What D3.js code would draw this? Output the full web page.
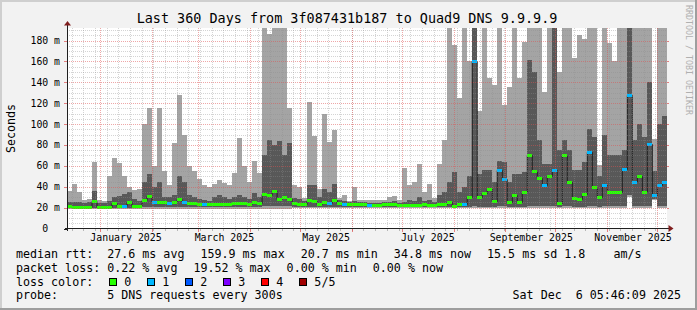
<!DOCTYPE html>
<html>
<head>
<meta charset="utf-8">
<script src="https://cdn.jsdelivr.net/npm/d3@7"></script>
<style>
  html, body { margin: 0; padding: 0; background: #f2f2f2; }
  svg { display: block; font-family: "DejaVu Sans Mono", monospace; }
  text { white-space: pre; }
</style>
</head>
<body>
<div id="chart"></div>
<script>
// Time range shown (360 days) and bin length
const rangeStart = new Date(2024, 11, 12, 5, 0);
const rangeEnd = new Date(2025, 11, 7, 0, 0);
const binDays = 3;

// Smoke: sorted ping rtts per bin (ms) -> min, 2nd, median, 4th, max
const pingMax = [
  36, 43, 35, 27, 28, 64, 27, 26, 50, 68, 63, 50, 40, 37, 38, 100, 115, 60, 115, 55,
  42, 82, 128, 90, 60, 55, 47, 42, 40, 43, 46, 44, 42, 53, 87, 60, 45, 65, 53, 200,
  186, 200, 200, 200, 115, 42, 40, 29, 121, 89, 38, 110, 83, 94, 29, 32, 26, 40, 27, 27,
  27, 27, 27, 27, 30, 31, 27, 58, 42, 45, 62, 35, 43, 29, 62, 85, 200, 176, 125, 200,
  160, 200, 113, 200, 144, 137, 200, 118, 136, 200, 144, 179, 200, 200, 200, 131, 200, 200, 150, 200,
  200, 163, 185, 182, 200, 200, 61, 200, 178, 160, 200, 200, 200, 200, 200, 200, 200, 86, 200, 200
];
const pingHigh = [
  25, 25, 25, 24, 25, 36, 24, 24, 26, 30, 31, 33, 35, 28, 26, 45, 52, 40, 45, 30,
  30, 32, 50, 45, 32, 30, 28, 27, 26, 30, 32, 30, 28, 30, 32, 30, 28, 34, 30, 70,
  85, 80, 84, 70, 82, 29, 28, 26, 42, 42, 30, 38, 35, 43, 27, 26, 25, 26, 25, 25,
  24, 24, 24, 25, 25, 26, 24, 25, 27, 26, 30, 26, 27, 25, 32, 35, 45, 54, 35, 40,
  50, 200, 52, 56, 56, 45, 65, 64, 45, 52, 52, 54, 161, 150, 85, 62, 62, 200, 75, 85,
  75, 56, 56, 64, 95, 88, 50, 90, 70, 70, 70, 75, 200, 85, 100, 88, 140, 55, 100, 108
];
const pingMedian = [
  21.5, 21, 21, 21, 21, 26, 21, 21, 21, 24, 21.5, 21.5, 25, 21.5, 21.5, 27, 31, 25, 25, 25,
  24, 25, 28, 25, 24, 24, 23.5, 23, 23, 23, 23, 23, 23, 24, 24, 24, 23, 25, 24, 33,
  32, 36, 28, 30, 28, 24, 23, 23, 27, 26, 23, 25, 24, 27, 24, 23, 23, 23, 23, 23,
  22.5, 22.5, 22.5, 23, 23, 23.5, 22.5, 22.5, 22.5, 22.5, 22.5, 23, 22.5, 22.5, 23, 23, 25, 22, 23, 23,
  30, 160, 30, 34, 38, 26, 56, 47, 25, 32, 25, 35, 70, 55, 48, 42, 50, 56, 24, 70,
  45, 29, 28, 33, 73, 40, 30, 42, 35, 35, 35, 57, 128, 45, 50, 35, 81, 32, 42, 45
];
const pingLow = [
  20, 20, 20, 20, 20, 20, 20, 20, 20, 20, 20, 20, 20, 20, 20, 21, 21, 21, 21, 21,
  21, 21, 21, 21, 21, 21, 21, 21, 21, 21, 21, 21, 21, 21, 21, 21, 21, 21, 21, 22,
  22, 22, 22, 22, 22, 21, 21, 21, 21, 21, 21, 21, 21, 21, 21, 21, 21, 21, 21, 21,
  21, 21, 21, 21, 21, 21, 21, 21, 21, 21, 21, 21, 21, 21, 21, 21, 21, 21, 21, 21,
  21, 22, 21, 21, 21, 21, 22, 22, 21, 21, 21, 21, 22, 22, 22, 22, 22, 22, 21, 22,
  22, 21, 21, 21, 22, 22, 21, 22, 22, 22, 22, 22, 32, 22, 22, 22, 22, 28, 22, 22
];
const pingMin = [
  18.5, 18.5, 18.5, 18.5, 18.5, 18.5, 18.5, 18.5, 18.5, 18.5, 18.5, 18.5, 18.5, 18.5, 18.5, 19, 19, 19, 19, 19,
  19, 19, 19, 19, 19, 19, 19, 19, 19, 19, 19, 19, 19, 19, 19, 19, 19, 19, 19, 19,
  19, 19, 19, 19, 19, 19.5, 19.5, 19.5, 19.5, 19.5, 19.5, 19.5, 19.5, 19.5, 20, 20, 20, 20, 20, 20,
  20, 20, 20, 20, 20, 20, 20, 20, 20, 20, 20, 20, 20, 20, 20, 20, 20, 20, 20, 20,
  20, 20, 20, 20, 20, 20, 20, 20, 20, 20, 20, 20, 20, 20, 20, 20, 20, 20, 20, 20,
  20, 20, 20, 20, 20, 20, 20, 20, 20, 20, 20, 20, 30, 20, 20, 20, 20, 27, 20, 20
];
// lost pings out of 5 per bin
const lossCount = [
  0, 0, 0, 0, 0, 0, 0, 0, 0, 0, 0, 1, 0, 0, 0, 0, 0, 1, 0, 0,
  1, 0, 0, 1, 0, 0, 0, 1, 0, 0, 0, 0, 0, 0, 0, 0, 0, 0, 0, 0,
  0, 0, 0, 0, 0, 0, 0, 0, 0, 0, 0, 0, 1, 0, 0, 1, 0, 0, 0, 0,
  1, 0, 0, 0, 0, 0, 0, 0, 0, 0, 0, 0, 0, 0, 0, 0, 0, 0, 0, 1,
  0, 1, 0, 0, 0, 0, 1, 1, 0, 0, 0, 0, 0, 0, 0, 1, 0, 1, 0, 0,
  0, 0, 0, 0, 1, 0, 0, 1, 0, 0, 0, 1, 1, 1, 0, 0, 1, 1, 1, 1
];

// Axis ticks and labels
const yTicks = [0, 20, 40, 60, 80, 100, 120, 140, 160, 180];
const yTickLabels = ["0  ", "20 m", "40 m", "60 m", "80 m", "100 m", "120 m", "140 m", "160 m", "180 m"];
const xLabelMonths = [new Date(2025, 0, 1), new Date(2025, 2, 1), new Date(2025, 4, 1),
                      new Date(2025, 6, 1), new Date(2025, 8, 1), new Date(2025, 10, 1)];

// Legend texts
const titleText = "Last 360 Days from 3f087431b187 to Quad9 DNS 9.9.9.9";
const rttStats = ["median rtt:  27.6 ms avg", "159.9 ms max", "20.7 ms min", "34.8 ms now", "15.5 ms sd 1.8    am/s"];
const lossStats = ["packet loss: 0.22 % avg", "19.52 % max", "0.00 % min", "0.00 % now"];
const lossLabels = ["0", "1", "2", "3", "4", "5/5"];
const probeText = "probe:       5 DNS requests every 300s";
const dateText = "Sat Dec  6 05:46:09 2025";

const lossColor = d3.scaleOrdinal()
    .domain(d3.range(6))
    .range(["#26ff00", "#00b8ff", "#0059ff", "#7e00ff", "#ff0000", "#a10000"]);

function render() {
    const W = 697, H = 310;
    const X0 = 67, X1 = 667, Y0 = 228, Y1 = 28;

    const svg = d3.select("#chart").append("svg")
        .attr("width", W).attr("height", H);

    // background + 3d border
    svg.append("rect").attr("width", W).attr("height", H).attr("fill", "#f2f2f2");
    svg.append("path").attr("d", `M0,0H${W}V2H2V${H}H0Z`).attr("fill", "#cfcfcf");
    svg.append("path").attr("d", `M${W},${H}H0V${H - 2}H${W - 2}V0H${W}Z`).attr("fill", "#9e9e9e");

    // canvas
    svg.append("rect").attr("x", X0).attr("y", Y1).attr("width", X1 - X0).attr("height", Y0 - Y1)
        .attr("fill", "#ffffff");

    const x = d3.scaleTime().domain([rangeStart, rangeEnd]).range([X0, X1]);
    const y = d3.scaleLinear().domain([0, 191.6]).range([Y0 + 0.5, Y1 + 0.5]);

    // bins
    const bins = pingMedian.map((m, i) => ({
        t: d3.timeHour.offset(rangeStart, i * binDays * 24),
        min: pingMin[i], low: pingLow[i], med: m, high: pingHigh[i], max: pingMax[i], loss: lossCount[i]
    }));
    const stepData = bins.concat([Object.assign({}, bins[bins.length - 1],
        { t: d3.timeHour.offset(rangeStart, bins.length * binDays * 24) })]);

    svg.append("clipPath").attr("id", "plot-clip")
        .append("rect").attr("x", X0).attr("y", Y1).attr("width", X1 - X0).attr("height", Y0 - Y1 + 1);

    const plot = svg.append("g").attr("clip-path", "url(#plot-clip)");

    // smoke
    const lightArea = d3.area().curve(d3.curveStepAfter)
        .x(d => x(d.t)).y0(d => y(d.min)).y1(d => y(d.max));
    const darkArea = d3.area().curve(d3.curveStepAfter)
        .x(d => x(d.t)).y0(d => y(d.low)).y1(d => y(d.high));

    plot.append("path").datum(stepData).attr("d", lightArea)
        .attr("fill", "#a4a4a4").attr("shape-rendering", "crispEdges");
    plot.append("path").datum(stepData).attr("d", darkArea)
        .attr("fill", "#585858").attr("shape-rendering", "crispEdges");

    // median line
    const medLine = d3.line().curve(d3.curveStepAfter)
        .x(d => x(d.t)).y(d => Math.round(y(d.med)) + 0.5);
    plot.append("path").datum(stepData).attr("d", medLine)
        .attr("fill", "none").attr("stroke", "#202020").attr("stroke-width", 1);

    // median markers colored by loss
    plot.selectAll(".med").data(bins).enter().append("rect")
        .attr("x", d => x(d.t))
        .attr("width", (d, i) => x(stepData[i + 1].t) - x(d.t))
        .attr("y", d => Math.round(y(d.med)) - 1)
        .attr("height", 3)
        .attr("fill", d => lossColor(d.loss))
        .attr("shape-rendering", "crispEdges");

    // grid
    const grid = svg.append("g").attr("stroke-dasharray", "1,1").attr("stroke-width", 1);
    const minorCol = "rgba(143,143,143,0.38)", majorCol = "rgba(222,79,79,0.5)";

    const minorY = d3.range(5, 191, 5).filter(v => v % 20 !== 0);
    grid.selectAll(".ymin").data(minorY).enter().append("line")
        .attr("x1", X0).attr("x2", X1)
        .attr("y1", d => Math.round(y(d)) + 0.5).attr("y2", d => Math.round(y(d)) + 0.5)
        .attr("stroke", minorCol);
    grid.selectAll(".ymaj").data(yTicks.slice(1)).enter().append("line")
        .attr("x1", X0).attr("x2", X1)
        .attr("y1", d => Math.round(y(d)) + 0.5).attr("y2", d => Math.round(y(d)) + 0.5)
        .attr("stroke", majorCol);

    const weeks = d3.timeSunday.range(rangeStart, rangeEnd);
    const months = d3.timeMonth.range(rangeStart, rangeEnd);
    grid.selectAll(".xmin").data(weeks).enter().append("line")
        .attr("x1", d => Math.round(x(d)) + 0.5).attr("x2", d => Math.round(x(d)) + 0.5)
        .attr("y1", Y1).attr("y2", Y0)
        .attr("stroke", minorCol);
    grid.selectAll(".xmaj").data(months).enter().append("line")
        .attr("x1", d => Math.round(x(d)) + 0.5).attr("x2", d => Math.round(x(d)) + 0.5)
        .attr("y1", Y1).attr("y2", Y0)
        .attr("stroke", majorCol);

    // small ticks outside the plot
    const ticks = svg.append("g").attr("stroke-width", 1);
    ticks.selectAll(".tw").data(weeks).enter().append("line")
        .attr("x1", d => Math.round(x(d)) + 0.5).attr("x2", d => Math.round(x(d)) + 0.5)
        .attr("y1", Y0 + 1).attr("y2", Y0 + 3).attr("stroke", "rgba(143,143,143,0.6)");
    ticks.selectAll(".tm").data(months).enter().append("line")
        .attr("x1", d => Math.round(x(d)) + 0.5).attr("x2", d => Math.round(x(d)) + 0.5)
        .attr("y1", Y0 + 1).attr("y2", Y0 + 4).attr("stroke", "rgba(222,79,79,0.7)");
    ticks.selectAll(".ty").data(yTicks).enter().append("line")
        .attr("x1", X0 - 3).attr("x2", X0)
        .attr("y1", d => Math.round(y(d)) + 0.5).attr("y2", d => Math.round(y(d)) + 0.5)
        .attr("stroke", d => d === 0 ? "#1f1f1f" : "rgba(222,79,79,0.7)");
    ticks.selectAll(".tyr").data(yTicks.slice(1)).enter().append("line")
        .attr("x1", X1).attr("x2", X1 + 2)
        .attr("y1", d => Math.round(y(d)) + 0.5).attr("y2", d => Math.round(y(d)) + 0.5)
        .attr("stroke", "rgba(222,79,79,0.7)");

    // axes with arrows
    svg.append("line").attr("x1", X0 + 0.5).attr("x2", X0 + 0.5).attr("y1", Y0 + 3).attr("y2", Y1 - 4)
        .attr("stroke", "#1f1f1f");
    svg.append("line").attr("x1", X0 - 2).attr("x2", X1 + 3).attr("y1", Y0 + 0.5).attr("y2", Y0 + 0.5)
        .attr("stroke", "#1f1f1f");
    svg.append("path").attr("d", `M${X0 - 3},${Y1 - 2.5}L${X0 + 4},${Y1 - 2.5}L${X0 + 0.5},${Y1 - 7}Z`)
        .attr("fill", "#801f1f");
    svg.append("path").attr("d", `M${X1 + 1.5},${Y0 - 3}L${X1 + 1.5},${Y0 + 4}L${X1 + 6.5},${Y0 + 0.5}Z`)
        .attr("fill", "#801f1f");

    // axis labels
    svg.selectAll(".ylab").data(yTicks).enter().append("text")
        .attr("x", X0 - 7).attr("y", d => y(d) + 3.5)
        .attr("text-anchor", "end").attr("font-size", "9.8px").attr("fill", "#000")
        .text((d, i) => yTickLabels[i]);
    svg.selectAll(".xlab").data(xLabelMonths).enter().append("text")
        .attr("x", d => x(d3.timeDay.offset(d, 15)) + 1).attr("y", 241)
        .attr("text-anchor", "middle").attr("font-size", "9.9px").attr("fill", "#000")
        .text(d => d3.timeFormat("%B %Y")(d));

    // title and side texts
    svg.append("text").attr("x", 347).attr("y", 23).attr("text-anchor", "middle")
        .attr("font-size", "13.45px").attr("fill", "#000").text(titleText);
    svg.append("text").attr("transform", "translate(15,128.5) rotate(-90)")
        .attr("text-anchor", "middle").attr("font-size", "11.66px").attr("fill", "#000").text("Seconds");
    svg.append("text").attr("transform", "translate(685.5,5) rotate(90)")
        .attr("font-size", "8.3px").attr("fill", "#b0b0b0").text("RRDTOOL / TOBI OETIKER");

    // legend
    const legendFont = "11.66px";
    const glue = 16;
    function legendLine(items, baseY) {
        let cx = 16;
        items.forEach(s => {
            const t = svg.append("text").attr("x", cx).attr("y", baseY)
                .attr("font-size", legendFont).attr("fill", "#000").text(s);
            cx += t.node().getComputedTextLength() + glue;
        });
    }
    legendLine(rttStats, 258.3);
    legendLine(lossStats, 271.8);

    const lc = svg.append("text").attr("x", 16).attr("y", 285.5)
        .attr("font-size", legendFont).attr("fill", "#000").text("loss color:");
    let cx = 16 + lc.node().getComputedTextLength() + glue;
    lossLabels.forEach((lab, i) => {
        svg.append("rect").attr("x", Math.round(cx) + 0.5).attr("y", 278.5)
            .attr("width", 7).attr("height", 7)
            .attr("fill", lossColor(i)).attr("stroke", "#000").attr("stroke-width", 1);
        const t = svg.append("text").attr("x", cx + 15).attr("y", 285.5)
            .attr("font-size", legendFont).attr("fill", "#000").text(lab);
        cx += 15 + t.node().getComputedTextLength() + glue;
    });

    svg.append("text").attr("x", 16).attr("y", 299)
        .attr("font-size", legendFont).attr("fill", "#000").text(probeText);
    svg.append("text").attr("x", 681).attr("y", 299).attr("text-anchor", "end")
        .attr("font-size", legendFont).attr("fill", "#000").text(dateText);
}

window.onload = render;
</script>
</body>
</html>
